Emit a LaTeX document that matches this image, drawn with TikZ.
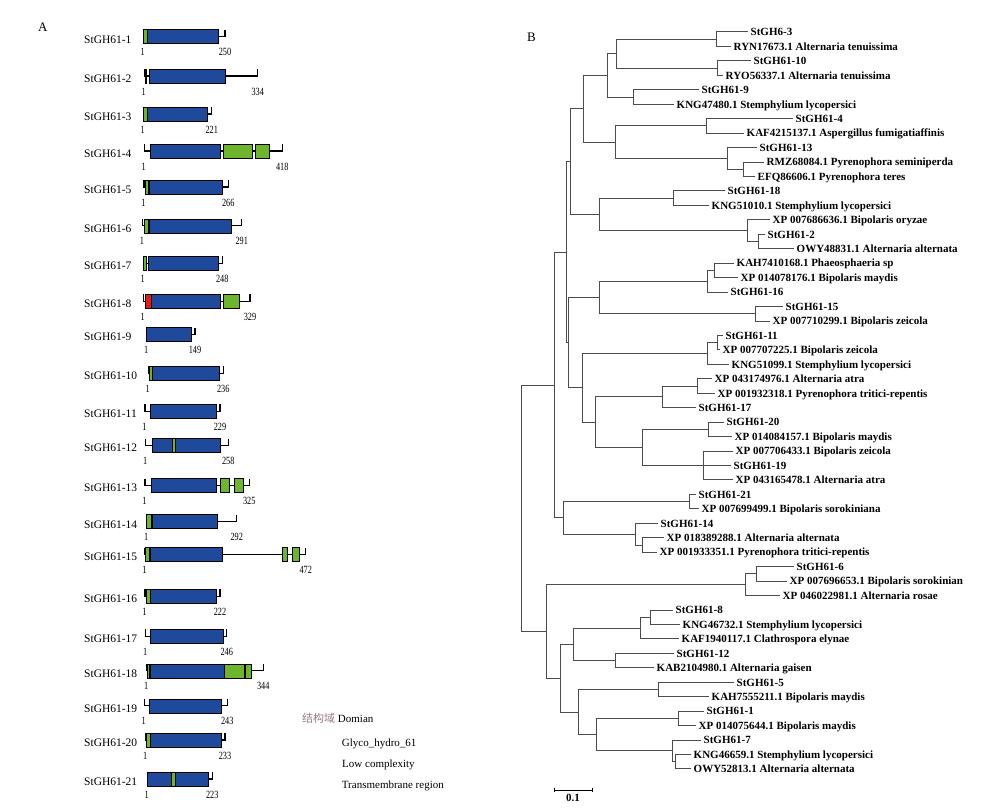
\documentclass[tikz,border=0pt]{standalone}
\usepackage{fontspec}
\setmainfont{Liberation Serif}
\newfontfamily\cjk{Noto Sans CJK SC}
\usepackage{graphicx}
\usepackage{tikz}
\usetikzlibrary{calc,positioning}
\definecolor{glyco}{RGB}{31,73,155}
\definecolor{lowcx}{RGB}{109,181,45}
\definecolor{tmreg}{RGB}{232,25,31}
\definecolor{cjkgray}{RGB}{150,125,130}
\tikzset{
	gname/.style={anchor=west, inner sep=0pt, font=\fontsize{11.5}{13}\selectfont},
	num/.style={inner sep=0pt, font=\fontsize{11}{12}\selectfont},
	backbone/.style={draw=black, line width=1.1pt},
	gh/.style={draw=black, line width=0.6pt, fill=glyco},
	lc/.style={draw=black, line width=0.6pt, fill=lowcx},
	tm/.style={draw=black, line width=0.6pt, fill=tmreg},
	leaf/.style={anchor=west, inner xsep=2.5pt, inner ysep=0pt,
		text height=7.5pt, text depth=0pt,
		font=\bfseries\fontsize{11}{13}\selectfont},
	branch/.style={draw=black!70, line width=1pt},
	panel/.style={anchor=west, inner sep=0pt, font=\fontsize{13}{15}\selectfont},
	legend/.style={anchor=west, inner sep=0pt, font=\fontsize{11}{13}\selectfont},
}
% one protein: index, row y, start x, end x, length
\newcommand{\prot}[5]{%
	\node[gname] (g#1) at (84,#2+2.6) {StGH61-#1};
	\draw[backbone] (#3,#2-7) -- (#3,#2) -- (#4,#2) -- (#4,#2-7);
	\node[num] (s#1) at (#3-0.5,#2+15.5) {\scalebox{0.75}[1]{1}};
	\node[num] (e#1) at (#4,#2+15.5) {\scalebox{0.75}[1]{#5}};
}
% one domain box: style, row y, from x, to x
\newcommand{\dom}[4]{\draw[#1] (#3,#2-7) rectangle (#4,#2+7);}

\begin{document}
\begin{tikzpicture}[x=1pt, y=-1pt]
	\useasboundingbox (0,0) rectangle (1006,808);
	
	% A: domain structure
	\node[panel] (pa) at (38,27) {A};
	\prot{1}{36.7}{143.3}{225}{250}
	\dom{lc}{36.7}{143.3}{147.3}
	\dom{gh}{36.7}{147.3}{218.3}
	\prot{2}{76}{144.3}{257.7}{334}
	\dom{lc}{76}{145}{146.7}
	\dom{gh}{76}{149.3}{225.7}
	\prot{3}{114}{143.3}{211.7}{221}
	\dom{lc}{114}{143.3}{147.3}
	\dom{gh}{114}{147.3}{207.3}
	\prot{4}{151}{144.3}{282.3}{418}
	\dom{gh}{151}{150}{220.7}
	\dom{lc}{151}{223.3}{252.7}
	\dom{lc}{151}{255.3}{269.3}
	\prot{5}{187}{144}{228.3}{266}
	\dom{lc}{187}{145}{148.3}
	\dom{gh}{187}{149.3}{222.3}
	\prot{6}{225.8}{142.5}{241.7}{291}
	\dom{lc}{225.8}{144.3}{148.3}
	\dom{gh}{225.8}{149.3}{231.7}
	\prot{7}{263.3}{143.3}{222.3}{248}
	\dom{lc}{263.3}{143.3}{146.7}
	\dom{gh}{263.3}{148.3}{218.3}
	\prot{8}{301.3}{143.3}{250}{329}
	\dom{tm}{301.3}{145}{151.7}
	\dom{gh}{301.3}{151.7}{220.7}
	\dom{lc}{301.3}{223.3}{239.3}
	\prot{9}{334.5}{146.7}{195}{149}
	\dom{gh}{334.5}{146.7}{191.7}
	\prot{10}{373.3}{148.3}{223.3}{236}
	\dom{lc}{373.3}{149}{152.3}
	\dom{gh}{373.3}{152.3}{219.3}
	\prot{11}{411.2}{145}{220}{229}
	\dom{gh}{411.2}{150}{216}
	\prot{12}{445.5}{145.7}{228.3}{258}
	\dom{gh}{445.5}{152.3}{220}
	\dom{lc}{445.5}{172.7}{175.3}
	\prot{13}{485.5}{145}{249.3}{325}
	\dom{gh}{485.5}{151}{216}
	\dom{lc}{485.5}{220.7}{229.3}
	\dom{lc}{485.5}{234.7}{243.3}
	\prot{14}{521.7}{146.7}{236.7}{292}
	\dom{lc}{521.7}{146.7}{151}
	\dom{gh}{521.7}{152}{217.7}
	\prot{15}{554.5}{145}{305.7}{472}
	\dom{lc}{554.5}{145.7}{149.3}
	\dom{gh}{554.5}{150}{222.3}
	\dom{lc}{554.5}{282.3}{287.7}
	\dom{lc}{554.5}{292.3}{299.3}
	\prot{16}{596.3}{145}{220}{222}
	\dom{lc}{596.3}{146}{150}
	\dom{gh}{596.3}{150.7}{216}
	\prot{17}{636.3}{145.7}{226.7}{246}
	\dom{gh}{636.3}{150.7}{223.3}
	\prot{18}{670.8}{146.7}{263.3}{344}
	\dom{lc}{670.8}{147.3}{149.3}
	\dom{gh}{670.8}{150}{224.3}
	\dom{lc}{670.8}{224.3}{244}
	\dom{lc}{670.8}{245.7}{251.7}
	\prot{19}{705.8}{144.3}{227.3}{243}
	\dom{gh}{705.8}{149.3}{221.7}
	\prot{20}{740}{145.7}{225}{233}
	\dom{lc}{740}{146}{150}
	\dom{gh}{740}{150.7}{221.7}
	\prot{21}{779}{147.3}{212.3}{223}
	\dom{gh}{779}{147.3}{208.7}
	\dom{lc}{779}{171.7}{175.3}
	
	% legend
	\node[legend] (dm) at (302,718) {{\cjk\color{cjkgray}结构域} Domian};
	\node[legend] (lg1) at (341.7,744) {Glyco\_hydro\_61};
	\node[legend] (lg2) at (342,765) {Low complexity};
	\node[legend] (lg3) at (341.7,786) {Transmembrane region};
	
	% B: tree, leaves from top to bottom
	\node[panel] (pb) at (527,37) {B};
	\foreach \t/\lab [count=\i] in {
		748/StGH6-3, 731/RYN17673.1 Alternaria tenuissima,
		751/StGH61-10, 723/RYO56337.1 Alternaria tenuissima,
		699/StGH61-9, 674/KNG47480.1 Stemphylium lycopersici,
		793/StGH61-4, 744/KAF4215137.1 Aspergillus fumigatiaffinis,
		757/StGH61-13, 764/RMZ68084.1 Pyrenophora seminiperda,
		755/EFQ86606.1 Pyrenophora teres,
		725/StGH61-18, 709/KNG51010.1 Stemphylium lycopersici,
		770/XP 007686636.1 Bipolaris oryzae, 765/StGH61-2,
		794/OWY48831.1 Alternaria alternata,
		734/KAH7410168.1 Phaeosphaeria sp, 738/XP 014078176.1 Bipolaris maydis,
		728/StGH61-16, 783/StGH61-15, 770/XP 007710299.1 Bipolaris zeicola,
		723/StGH61-11, 720/XP 007707225.1 Bipolaris zeicola,
		729/KNG51099.1 Stemphylium lycopersici,
		712/XP 043174976.1 Alternaria atra,
		715/XP 001932318.1 Pyrenophora tritici-repentis, 696/StGH61-17,
		724/StGH61-20, 732/XP 014084157.1 Bipolaris maydis,
		733/XP 007706433.1 Bipolaris zeicola, 731/StGH61-19,
		733/XP 043165478.1 Alternaria atra,
		696/StGH61-21, 699/XP 007699499.1 Bipolaris sorokiniana,
		658/StGH61-14, 664/XP 018389288.1 Alternaria alternata,
		657/XP 001933351.1 Pyrenophora tritici-repentis,
		794/StGH61-6, 787/XP 007696653.1 Bipolaris sorokinian,
		780/XP 046022981.1 Alternaria rosae,
		673/StGH61-8, 680/KNG46732.1 Stemphylium lycopersici,
		679/KAF1940117.1 Clathrospora elynae,
		674/StGH61-12, 654/KAB2104980.1 Alternaria gaisen,
		734/StGH61-5, 709/KAH7555211.1 Bipolaris maydis,
		704/StGH61-1, 696/XP 014075644.1 Bipolaris maydis,
		701/StGH61-7, 691/KNG46659.1 Stemphylium lycopersici,
		691/OWY52813.1 Alternaria alternata}
		\node[leaf] (l\i) at (\t,32+14.45*\i-14.45) {\lab};
	
	% inner nodes
	\coordinate (n1) at (716,39.2);
	\coordinate (n2) at (717,68.1);
	\coordinate (n3) at (616,53.7);
	\coordinate (n4) at (633,97.0);
	\coordinate (n5) at (607,75.4);
	\coordinate (n6) at (706,125.9);
	\coordinate (n7) at (743,169.3);
	\coordinate (n8) at (727,158.4);
	\coordinate (n9) at (615,142.2);
	\coordinate (n10) at (583,108.8);
	\coordinate (n11) at (673,198.2);
	\coordinate (n12) at (758,241.5);
	\coordinate (n13) at (747,230.7);
	\coordinate (n14) at (599,214.4);
	\coordinate (n15) at (570,161.6);
	\coordinate (n16) at (714,270.4);
	\coordinate (n17) at (707,281.3);
	\coordinate (n18) at (755,313.8);
	\coordinate (n19) at (599,297.5);
	\coordinate (n20) at (717,342.7);
	\coordinate (n21) at (707,353.5);
	\coordinate (n22) at (697,386.0);
	\coordinate (n23) at (662,396.9);
	\coordinate (n24) at (708,429.4);
	\coordinate (n25) at (703,465.5);
	\coordinate (n26) at (642,447.5);
	\coordinate (n27) at (595,422.2);
	\coordinate (n28) at (582,387.8);
	\coordinate (n29) at (568,342.7);
	\coordinate (n30) at (566,252.1);
	\coordinate (n31) at (689,501.6);
	\coordinate (n32) at (642,545.0);
	\coordinate (n33) at (635,534.1);
	\coordinate (n34) at (563,517.9);
	\coordinate (n35) at (554,385.0);
	\coordinate (n36) at (756,573.9);
	\coordinate (n37) at (745,584.7);
	\coordinate (n38) at (650,617.2);
	\coordinate (n39) at (640,628.1);
	\coordinate (n40) at (615,660.6);
	\coordinate (n41) at (573,644.3);
	\coordinate (n42) at (658,689.5);
	\coordinate (n43) at (678,718.4);
	\coordinate (n44) at (675,761.7);
	\coordinate (n45) at (672,750.9);
	\coordinate (n46) at (596,734.6);
	\coordinate (n47) at (578,712.1);
	\coordinate (n48) at (560,678.2);
	\coordinate (n49) at (546,631.4);
	\coordinate (root) at (521,508.2);
	
	% branches
	\foreach \p/\c in {n1/l1, n1/l2, n2/l3, n2/l4, n4/l5, n4/l6, n6/l7, n6/l8,
		n8/l9, n7/l10, n7/l11, n11/l12, n11/l13, n13/l14, n12/l15, n12/l16,
		n16/l17, n16/l18, n17/l19, n18/l20, n18/l21, n20/l22, n20/l23, n21/l24,
		n22/l25, n22/l26, n23/l27, n24/l28, n24/l29, n25/l30, n25/l31, n25/l32,
		n31/l33, n31/l34, n33/l35, n32/l36, n32/l37, n36/l38, n36/l39, n37/l40,
		n38/l41, n38/l42, n39/l43, n40/l44, n40/l45, n42/l46, n42/l47,
		n43/l48, n43/l49, n45/l50, n44/l51, n44/l52}
		\draw[branch] (\p) |- (\c.west);
	\foreach \p/\c in {n3/n1, n3/n2, n5/n3, n5/n4, n8/n7, n9/n6, n9/n8,
		n10/n5, n10/n9, n13/n12, n14/n11, n14/n13, n15/n10, n15/n14,
		n17/n16, n19/n17, n19/n18, n21/n20, n23/n22, n26/n24, n26/n25,
		n27/n23, n27/n26, n28/n21, n28/n27, n29/n19, n29/n28, n30/n15, n30/n29,
		n33/n32, n34/n31, n34/n33, n35/n30, n35/n34, n37/n36, n39/n38,
		n41/n39, n41/n40, n45/n44, n46/n43, n46/n45, n47/n42, n47/n46,
		n48/n41, n48/n47, n49/n37, n49/n48, root/n35, root/n49}
		\draw[branch] (\p) |- (\c);
	
	% scale bar
	\coordinate (sb1) at (554,790);
	\coordinate (sb2) at (592,790);
	\draw[branch, black] ([yshift=2pt]sb1) -- ([yshift=-2pt]sb1) (sb1) -- (sb2) ([yshift=2pt]sb2) -- ([yshift=-2pt]sb2);
	\node[leaf, anchor=north, inner sep=1pt] (sbl) at ($(sb1)!0.5!(sb2)+(0,3)$) {0.1};
\end{tikzpicture}
\end{document}
